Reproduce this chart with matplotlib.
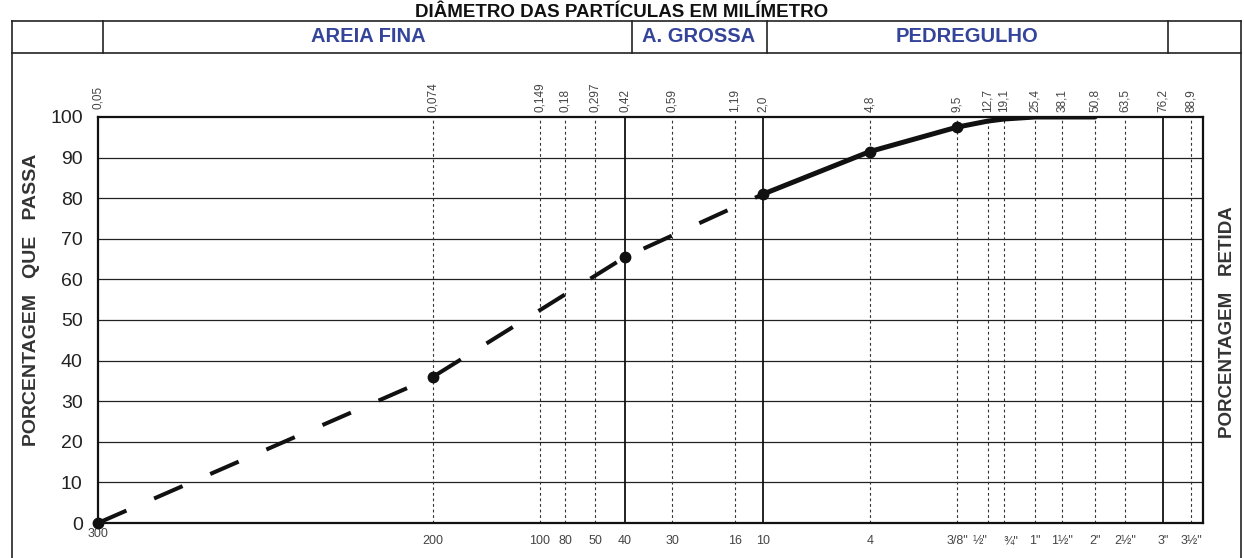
import numpy as np
import matplotlib.pyplot as plt
from matplotlib.lines import Line2D

plt.rcParams["font.family"] = ["Liberation Sans", "DejaVu Sans"]

# ── Data: sieve analysis ──────────────────────────────────────────────────────
DIAM_MM   = [0.05, 0.074, 0.42, 2.0, 4.8, 9.5, 12.7, 19.1, 25.4, 38.1, 50.8]
PASS_PCT  = [0.0, 36.0, 65.5, 81.0, 91.5, 97.5, 99.0, 99.5, 100.0, 100.0, 100.0]
DOTTED_MM = [0.05, 0.074, 0.42, 2.0, 4.8, 9.5]   # points with a marker
DASHED_UNTIL = 2.0                                # estimated part of curve

# sieve openings (top labels) and sieve numbers (bottom labels)
SIEVE_MM     = [0.074, 0.149, 0.18, 0.297, 0.42, 0.59, 1.19, 2.0, 4.8, 9.5,
                12.7, 19.1, 25.4, 38.1, 50.8, 63.5, 76.2, 88.9]
TOP_LABELS   = ["0,074", "0,149", "0,18", "0,297", "0,42", "0,59", "1,19", "2,0",
                "4,8", "9,5", "12,7", "19,1", "25,4", "38,1", "50,8", "63,5",
                "76,2", "88,9"]
BOT_LABELS   = ["200", "100", "80", "50", "40", "30", "16", "10", "4", "3/8\"",
                "½\"", "¾\"", "1\"", "1½\"", "2\"", "2½\"", "3\"", "3½\""]
SOLID_MM     = [0.42, 2.0, 76.2]

# form's own (non-log) horizontal scale: diameter -> position on the sheet
FORM_MM  = [0.05, 0.074, 0.149, 0.18, 0.297, 0.42, 0.59, 1.19, 2.0, 4.8, 9.5,
            12.7, 19.1, 25.4, 38.1, 50.8, 63.5, 76.2, 88.9, 100]
FORM_POS = [98, 433, 540, 565, 595, 625, 672, 735, 763, 870, 957,
            988, 1004, 1035, 1062, 1095, 1125, 1163, 1191, 1203]


def fwd(d):
    return np.interp(d, FORM_MM, FORM_POS)


def inv(p):
    return np.interp(p, FORM_POS, FORM_MM)


W, H = 1244, 558
fx = lambda x: x / W
fy = lambda y: 1 - y / H

fig = plt.figure(figsize=(W / 100, H / 100), dpi=100)
fig.patch.set_facecolor("white")
ax = fig.add_axes([fx(98), fy(523), fx(1203) - fx(98), fy(117) - fy(523)])

ax.set_xscale("function", functions=(fwd, inv))
ax.set_xlim(0.05, 100)
ax.set_ylim(0, 100)

# grid
for v in range(10, 100, 10):
    ax.axhline(v, color="#222", lw=0.9, zorder=1)
for d in SIEVE_MM:
    if d in SOLID_MM:
        ax.axvline(d, color="#111", lw=1.3, zorder=1)
    else:
        ax.axvline(d, color="#333", lw=0.8, ls=(0, (2.5, 2.5)), zorder=1)

# curve
d = np.array(DIAM_MM)
p = np.array(PASS_PCT)
m = d <= DASHED_UNTIL
ax.plot(d[m], p[m], color="#111", lw=2.9, ls=(0, (7.7, 7.5)),
        dash_capstyle="butt", zorder=3)
ax.plot(d[d >= DASHED_UNTIL], p[d >= DASHED_UNTIL], color="#111", lw=3.6,
        solid_capstyle="round", zorder=3)
dots = [PASS_PCT[DIAM_MM.index(x)] for x in DOTTED_MM]
ax.plot(DOTTED_MM, dots, "o", color="#111", ms=7.5, zorder=4, clip_on=False)

# axes look
for sp in ax.spines.values():
    sp.set_linewidth(1.6)
    sp.set_color("#111")
ax.set_xticks([])
ax.set_yticks(range(0, 101, 10))
ax.tick_params(axis="y", length=0, pad=11, labelsize=14, labelcolor="#222")

trans = ax.get_xaxis_transform()
ax.text(0.05, 1.02, "0,05", rotation=90, ha="center", va="bottom",
        fontsize=8.5, color="#444", transform=trans)
for dd, lab in zip(SIEVE_MM, TOP_LABELS):
    ax.text(dd, 1.012, lab, rotation=90, ha="center", va="bottom",
            fontsize=8.5, color="#444", transform=trans)
ax.text(0.05, -0.012, "300", ha="center", va="top", fontsize=9, color="#444",
        transform=trans)
for dd, lab in zip(SIEVE_MM, BOT_LABELS):
    ha = "center"
    if lab == "½\"":
        ha = "right"
    elif lab == "¾\"":
        ha = "left"
    ax.text(dd, -0.03, lab, ha=ha, va="top", fontsize=9, color="#444",
            transform=trans)

# ── header / frame of the form ────────────────────────────────────────────────
def hline(y, x0, x1, lw=1.2):
    fig.add_artist(Line2D([fx(x0), fx(x1)], [fy(y), fy(y)], color="#222", lw=lw))


def vline(x, y0, y1, lw=1.2):
    fig.add_artist(Line2D([fx(x), fx(x)], [fy(y0), fy(y1)], color="#222", lw=lw))


hline(21, 12, 1241)
hline(53, 12, 1241)
vline(12, 21, 558)
vline(1241, 21, 558)
for x in [103, 632, 767, 1168]:
    vline(x, 21, 53)

fig.text(fx(622), fy(17), "DIÂMETRO DAS PARTÍCULAS EM MILÍMETRO", ha="center",
         va="baseline", fontsize=13.5, fontweight="bold", color="#111")
blue = "#34449a"
for x, lab in [(368, "AREIA FINA"), (699, "A. GROSSA"), (967, "PEDREGULHO")]:
    fig.text(fx(x), fy(37), lab, ha="center", va="center", fontsize=14.5,
             fontweight="bold", color=blue)

fig.text(fx(32), fy(300), "PORCENTAGEM   QUE   PASSA", rotation=90, ha="center",
         va="center", fontsize=14, fontweight="bold", color="#333")
fig.text(fx(1228), fy(322), "PORCENTAGEM   RETIDA", rotation=90, ha="center",
         va="center", fontsize=13.5, fontweight="bold", color="#333")

fig.savefig("out.png", dpi=100, facecolor="white")
